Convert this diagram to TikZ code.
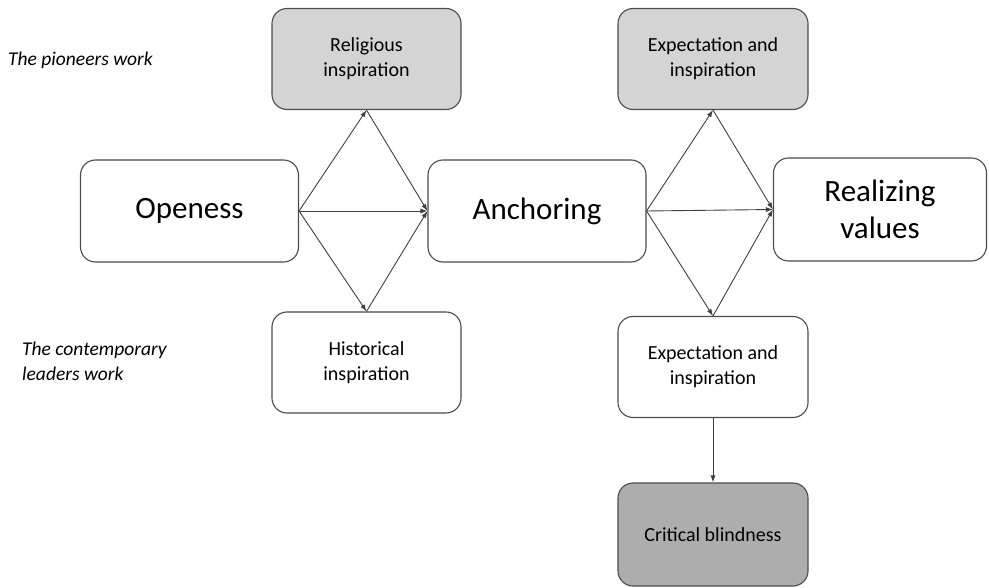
\documentclass[tikz,border=0pt]{standalone}
\usepackage{fontspec}
\setmainfont{Carlito}
\usetikzlibrary{arrows.meta}
\begin{document}
\begin{tikzpicture}[x=1pt,y=-1pt,
  box/.style={draw=black!70, line width=1.1pt, rounded corners=15pt, align=center, inner sep=2pt},
  small/.style={box, minimum width=189pt, minimum height=101pt, font=\fontsize{20}{25}\selectfont},
  big/.style={box, minimum width=218pt, minimum height=102pt, font=\fontsize{31}{37}\selectfont},
  conn/.style={draw=black!75, line width=0.9pt, -{Latex[length=7pt,width=5pt]}},
  lbl/.style={font=\fontsize{19.5}{25}\selectfont\itshape, align=left, anchor=west, inner sep=0pt}]
\useasboundingbox (0,0) rectangle (989,588);
\node[big] (open) at (189.5,211) {Openess};
\node[small, fill=black!17] (relig) at (366.5,59) {Religious\\inspiration};
\node[big] (anch) at (537,211) {Anchoring};
\node[small] (hist) at (366.5,362.5) {Historical\\inspiration};
\node[small, fill=black!17, minimum width=190pt] (exptop) at (713,59) {Expectation and\\inspiration};
\node[big, minimum width=213pt, minimum height=103pt] (real) at (880,209.5) {Realizing\\values};
\node[small, minimum width=190pt] (expbot) at (713,367) {Expectation and\\inspiration};
\node[small, fill=black!32, minimum width=190pt, minimum height=103pt] (crit) at (713,534.5) {Critical blindness};
\node[lbl] (l1) at (8,60) {The pioneers work};
\node[lbl] (l2) at (22,361) {The contemporary\\leaders work};
\draw[conn] (open.east) -- (relig.south);
\draw[conn] (open.east) -- (anch.west);
\draw[conn] (open.east) -- (hist.north);
\draw[conn] (relig.south) -- (anch.west);
\draw[conn] (hist.north) -- (anch.west);
\draw[conn] (anch.east) -- (exptop.south);
\draw[conn] (anch.east) -- (real.west);
\draw[conn] (anch.east) -- (expbot.north);
\draw[conn] (exptop.south) -- (real.west);
\draw[conn] (expbot.north) -- (real.west);
\draw[conn] (expbot.south) -- (crit.north);
\end{tikzpicture}
\end{document}
